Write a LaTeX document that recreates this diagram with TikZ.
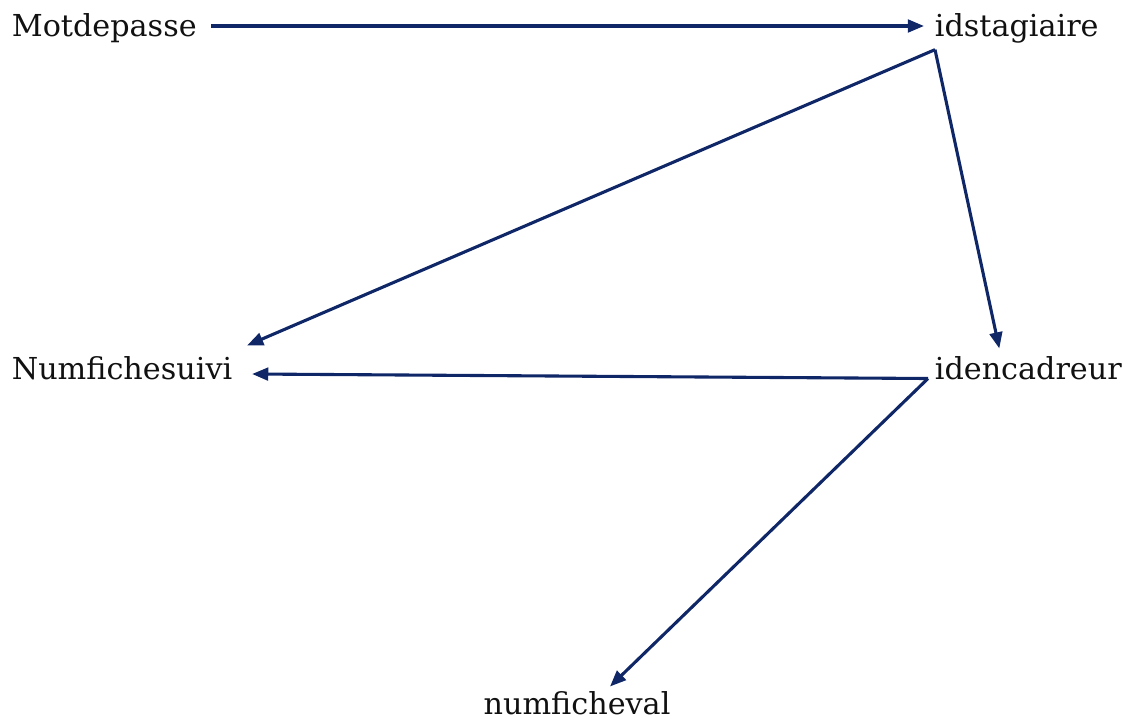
\documentclass[tikz,border=0pt]{standalone}
\usepackage{fontspec}
\setmainfont{DejaVu Serif}
\definecolor{navy}{HTML}{0F2767}
\definecolor{ink}{HTML}{111111}
\usetikzlibrary{arrows.meta, positioning, calc}
\tikzset{
  attr/.style={font=\fontsize{21.5}{25}\selectfont, text=ink, inner sep=2pt, outer sep=0pt},
  dep/.style={-{Triangle[length=11.5pt,width=9pt]}, line width=2.2pt, color=navy},
}

\begin{document}
\begin{tikzpicture}[x=0.025cm,y=-0.025cm]
\useasboundingbox (0,0) rectangle (1135,720);
\node[attr,anchor=west] (mdp) at (9,28) {Motdepasse};
\node[attr,anchor=west] (stag) at (932,28) {idstagiaire};
\node[attr,anchor=west] (suivi) at (9,368) {Numfichesuivi};
\node[attr,anchor=west] (encad) at (932,368) {idencadreur};
\node[attr] (eval) at (577,703) {numficheval};
\coordinate (s1) at ($(stag.south west)+(3,4)$);
\coordinate (e1) at ($(encad.south west)+(-4,-4)$);
\draw[dep] ($(mdp.east)+(12,-2)$) -- ($(stag.west)+(-8,-2)$);
\draw[dep] (s1) -- ($(suivi.north east)+(12,-8)$);
\draw[dep] (s1) -- ($(encad.north)+(-29,-5)$);
\draw[dep] (e1) -- ($(suivi.east)+(17,6)$);
\draw[dep] (e1) -- ($(eval.north)+(33,-2)$);
\end{tikzpicture}
\end{document}
